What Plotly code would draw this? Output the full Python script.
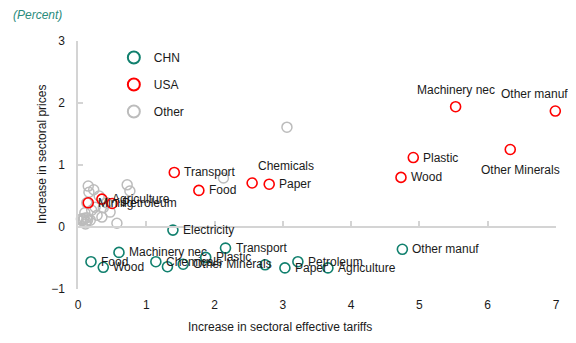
import plotly.graph_objects as go

# ---------------- data ----------------
chn_sectors = ["Electricity", "Machinery nec", "Food", "Wood", "Chemicals", "Mining",
               "Other Minerals", "Plastic", "Transport", "Electrical eq", "Paper",
               "Petroleum", "Agriculture", "Other manuf"]
chn_x = [1.39, 0.60, 0.19, 0.37, 1.14, 1.31, 1.54, 1.87, 2.16, 2.74, 3.03, 3.22, 3.66, 4.75]
chn_y = [-0.05, -0.41, -0.56, -0.65, -0.56, -0.64, -0.60, -0.49, -0.34, -0.61, -0.66, -0.56, -0.66, -0.36]
chn_show = [1, 1, 1, 1, 1, 0, 1, 1, 1, 0, 1, 1, 1, 1]

usa_sectors = ["Machinery nec", "Other manuf", "Other Minerals", "Plastic", "Wood",
               "Transport", "Food", "Chemicals", "Paper", "Agriculture", "Mining", "Petroleum"]
usa_x = [5.53, 6.99, 6.33, 4.91, 4.73, 1.41, 1.77, 2.55, 2.80, 0.35, 0.15, 0.50]
usa_y = [1.94, 1.87, 1.25, 1.12, 0.80, 0.88, 0.59, 0.71, 0.69, 0.45, 0.39, 0.38]

other_x = [0.15, 0.23, 0.31, 0.72, 0.76, 0.16, 0.13, 0.25, 0.37, 0.35, 0.57, 0.10,
           0.18, 0.28, 0.20, 0.42, 0.47, 0.06, 0.09, 0.12, 0.08, 0.11, 0.14, 0.05,
           0.13, 3.06, 2.13]
other_y = [0.66, 0.60, 0.50, 0.68, 0.58, 0.56, 0.39, 0.32, 0.31, 0.16, 0.06, 0.23,
           0.11, 0.19, 0.27, 0.39, 0.24, 0.10, 0.14, 0.08, 0.12, 0.05, 0.11, 0.13,
           0.15, 1.61, 0.79]

x_ticks = [0, 1, 2, 3, 4, 5, 6, 7]
y_ticks = [-1, 0, 1, 2, 3]

# ---------------- styles ----------------
TEAL = "#11806e"
RED = "#ff0000"
GREY = "#bcbcbc"
FONT = "Liberation Sans, Arial, sans-serif"
TXT = "#1a1a1a"

# label placement: default right of marker; special cases
usa_label_pos = {
    "Machinery nec": dict(xanchor="center", xshift=0, yshift=17),
    "Other manuf": dict(xanchor="center", xshift=-21, yshift=17),
    "Other Minerals": dict(xanchor="center", xshift=10, yshift=-20),
    "Chemicals": dict(xanchor="left", xshift=4, yshift=17),
}

fig = go.Figure()

fig.add_trace(go.Scatter(x=other_x, y=other_y, mode="markers", name="Other",
                         marker=dict(symbol="circle-open", size=10, color=GREY,
                                     line=dict(width=1.5)),
                         cliponaxis=False, showlegend=False))
fig.add_trace(go.Scatter(x=usa_x, y=usa_y, mode="markers", name="USA",
                         marker=dict(symbol="circle-open", size=10, color=RED,
                                     line=dict(width=1.6)),
                         cliponaxis=False, showlegend=False))
fig.add_trace(go.Scatter(x=chn_x, y=chn_y, mode="markers", name="CHN",
                         marker=dict(symbol="circle-open", size=10, color=TEAL,
                                     line=dict(width=1.6)),
                         cliponaxis=False, showlegend=False))

# legend entries (small symbols like the reference)
for name, col in [("CHN", TEAL), ("USA", RED), ("Other", GREY)]:
    fig.add_trace(go.Scatter(x=[None], y=[None], mode="markers", name=name,
                             legendgroup=name,
                             marker=dict(symbol="circle-open", size=7, color=col,
                                         line=dict(width=1.5))))

annotations = []
for s, x, y in zip(usa_sectors, usa_x, usa_y):
    pos = usa_label_pos.get(s, dict(xanchor="left", xshift=8, yshift=0))
    annotations.append(dict(x=x, y=y, xref="x", yref="y", text=s, showarrow=False,
                            font=dict(size=12, color=TXT, family=FONT),
                            yanchor="middle", **pos))
for s, x, y, sh in zip(chn_sectors, chn_x, chn_y, chn_show):
    if not sh:
        continue
    annotations.append(dict(x=x, y=y, xref="x", yref="y", text=s, showarrow=False,
                            font=dict(size=12, color=TXT, family=FONT),
                            xanchor="left", xshift=8, yanchor="middle"))

annotations += [
    dict(text="<i>(Percent)</i>", xref="paper", yref="paper",
         x=(11 - 78) / 478, y=(289 - 15) / 248, xanchor="left", yanchor="middle",
         showarrow=False, font=dict(size=12, color="#2b8c7c", family=FONT)),
    dict(text="Increase in sectoral effective tariffs", xref="paper", yref="paper",
         x=(280 - 78) / 478, y=-(327 - 289) / 248, xanchor="center", yanchor="middle",
         showarrow=False, font=dict(size=12, color=TXT, family=FONT)),
    dict(text="Increase in sectoral prices", xref="paper", yref="paper",
         x=(42 - 78) / 478, y=(289 - 155) / 248, xanchor="center", yanchor="middle",
         textangle=-90, showarrow=False, font=dict(size=12, color=TXT, family=FONT)),
]

# the page body adds an 8px offset; margins compensate so the plot area sits at
# x 78..556, y 41..289 in the window
fig.update_layout(
    width=576, height=343,
    margin=dict(l=70, r=28, t=33, b=62, autoexpand=False),
    paper_bgcolor="white", plot_bgcolor="white",
    font=dict(family=FONT, size=12, color=TXT),
    showlegend=True,
    legend=dict(x=0.075, y=0.992, xanchor="left", yanchor="top",
                bgcolor="rgba(0,0,0,0)", font=dict(size=12, color=TXT),
                tracegroupgap=8, itemsizing="constant"),
    annotations=annotations,
    xaxis=dict(range=[0, 7], tickvals=x_ticks, showgrid=False, zeroline=False,
               showline=False, ticks="", ticklabelstandoff=7, automargin=False,
               tickfont=dict(size=12, color=TXT)),
    xaxis2=dict(range=[0, 7], tickvals=x_ticks, overlaying="x", anchor="free",
                position=0.25, showline=True, linecolor="#d4d4d4", linewidth=1.5,
                ticks="inside", ticklen=5, tickcolor="#d4d4d4", tickwidth=1.5,
                showticklabels=False, showgrid=False, zeroline=False, automargin=False),
    yaxis=dict(range=[-1, 3], tickvals=y_ticks, showgrid=False, zeroline=False,
               showline=True, linecolor="#d4d4d4", linewidth=1.5, automargin=False,
               ticks="inside", ticklen=5, tickcolor="#d4d4d4", tickwidth=1.5,
               ticklabelstandoff=9, tickfont=dict(size=12, color=TXT)),
)

# invisible trace to activate the zero-line axis
fig.add_trace(go.Scatter(x=[None], y=[None], xaxis="x2", yaxis="y", showlegend=False,
                         hoverinfo="skip"))

fig.write_html("out.html")
